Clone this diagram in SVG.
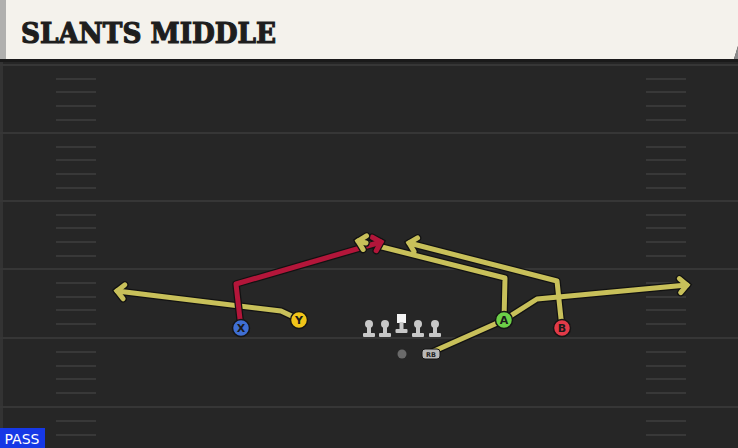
<svg xmlns="http://www.w3.org/2000/svg" width="738" height="448" viewBox="0 0 738 448">
<style>
.yl{stroke:#363636;stroke-width:2;fill:none}
.hm{stroke:#383838;stroke-width:2;fill:none}
.ol{fill:none;stroke:#121212;stroke-width:7.5;stroke-linejoin:round;stroke-linecap:round}
.ry{fill:none;stroke:#c8c05a;stroke-width:5;stroke-linejoin:round;stroke-linecap:round}
.rr{fill:none;stroke:#b3163a;stroke-width:5;stroke-linejoin:round;stroke-linecap:round}
.pl{stroke:#151515;stroke-width:1.5}
.lt{font-family:"DejaVu Sans","Liberation Sans",sans-serif;font-weight:bold;font-size:11px;fill:#1a1a1a;text-anchor:middle}
.ln{fill:#c8c8c8}
</style>
<defs>
<marker id="ahO" markerUnits="userSpaceOnUse" markerWidth="30" markerHeight="30" refX="0" refY="0" viewBox="-15 -15 30 30" orient="auto" overflow="visible">
<path d="M-7,-7 L0,0 L-7,7" fill="none" stroke="#121212" stroke-width="7.5" stroke-linejoin="miter" stroke-linecap="round"/>
</marker>
<marker id="ahY" markerUnits="userSpaceOnUse" markerWidth="30" markerHeight="30" refX="0" refY="0" viewBox="-15 -15 30 30" orient="auto" overflow="visible">
<path d="M-7,-7 L0,0 L-7,7" fill="none" stroke="#c8c05a" stroke-width="5" stroke-linejoin="miter" stroke-linecap="round"/>
</marker>
<marker id="ahR" markerUnits="userSpaceOnUse" markerWidth="30" markerHeight="30" refX="0" refY="0" viewBox="-15 -15 30 30" orient="auto" overflow="visible">
<path d="M-7,-7 L0,0 L-7,7" fill="none" stroke="#b3163a" stroke-width="5" stroke-linejoin="miter" stroke-linecap="round"/>
</marker>
</defs>

<!-- field -->
<rect x="0" y="0" width="738" height="448" fill="#262626"/>
<rect x="0" y="59" width="3" height="389" fill="#333"/>
<g id="field">
<line class="yl" x1="0" y1="65" x2="738" y2="65"/>
<line class="yl" x1="0" y1="133" x2="738" y2="133"/>
<line class="yl" x1="0" y1="201" x2="738" y2="201"/>
<line class="yl" x1="0" y1="269" x2="738" y2="269"/>
<line class="yl" x1="0" y1="338" x2="738" y2="338"/>
<line class="yl" x1="0" y1="407" x2="738" y2="407"/>
<path class="hm" d="M56,79H96M56,92H96M56,106H96M56,120H96M56,147H96M56,160H96M56,174H96M56,188H96M56,215H96M56,228H96M56,242H96M56,256H96M56,283H96M56,297H96M56,310H96M56,324H96M56,352H96M56,366H96M56,379H96M56,393H96M56,421H96M56,435H96"/>
<path class="hm" d="M646,79H686M646,92H686M646,106H686M646,120H686M646,147H686M646,160H686M646,174H686M646,188H686M646,215H686M646,228H686M646,242H686M646,256H686M646,283H686M646,297H686M646,310H686M646,324H686M646,352H686M646,366H686M646,379H686M646,393H686M646,421H686M646,435H686"/>
</g>

<!-- header -->
<g id="header">
<rect x="0" y="58" width="738" height="4" fill="#1a1a1a"/>
<polygon points="0,0 738,0 738,46 734,59 0,59" fill="#f4f2ec"/>
<polygon points="738,46 738,59 734,59" fill="#8a8a8a"/>
<rect x="0" y="0" width="6" height="59" fill="#b0b0ae"/>
<text x="21" y="43" font-family="'DejaVu Serif','Liberation Serif',serif" font-weight="bold" font-size="28" fill="#1e1e1e" stroke="#1e1e1e" stroke-width="1.2" textLength="255" lengthAdjust="spacingAndGlyphs">SLANTS MIDDLE</text>
</g>

<!-- routes -->
<g id="connectors">
<path class="ol" marker-end="url(#ahO)" d="M298,319 L281,311 L117,291"/>
<path class="ol" d="M504,320 L505,278 L358,241"/>
<path class="ol" marker-end="url(#ahO)" d="M562,328 L557,281 L409,243"/>
<path class="ol" marker-end="url(#ahO)" d="M432,352 L504,320 L537,299 L687,285"/>
<path class="ry" marker-end="url(#ahY)" d="M298,319 L281,311 L117,291"/>
<path class="ry" d="M504,320 L505,278 L358,241"/>
<path class="ry" marker-end="url(#ahY)" d="M562,328 L557,281 L409,243"/>
<path class="ry" marker-end="url(#ahY)" d="M432,352 L504,320 L537,299 L687,285"/>
<path class="ol" marker-end="url(#ahO)" d="M241,328 L236,284 L381,242"/>
<path class="rr" marker-end="url(#ahR)" d="M241,328 L236,284 L381,242"/>
<path class="ol" marker-end="url(#ahO)" d="M366,243 L358,241"/>
<path class="ry" marker-end="url(#ahY)" d="M366,243 L358,241"/>
</g>

<!-- offensive line -->
<g id="line">
<g id="lg1"><circle class="ln" cx="369" cy="324" r="4"/><rect class="ln" x="367" y="324" width="4" height="10"/><rect class="ln" x="363" y="333" width="12" height="4" rx="1"/></g>
<g id="lg2"><circle class="ln" cx="385" cy="324" r="4"/><rect class="ln" x="383" y="324" width="4" height="10"/><rect class="ln" x="379" y="333" width="12" height="4" rx="1"/></g>
<g id="center"><rect x="397" y="314" width="9" height="9" fill="#f4f4f4"/><rect class="ln" x="399.5" y="322" width="4" height="8"/><rect class="ln" x="395.5" y="329" width="12" height="4" rx="1"/></g>
<g id="lg4"><circle class="ln" cx="418" cy="324" r="4"/><rect class="ln" x="416" y="324" width="4" height="10"/><rect class="ln" x="412" y="333" width="12" height="4" rx="1"/></g>
<g id="lg5"><circle class="ln" cx="435" cy="324" r="4"/><rect class="ln" x="433" y="324" width="4" height="10"/><rect class="ln" x="429" y="333" width="12" height="4" rx="1"/></g>
</g>
<g id="qb"><circle cx="402" cy="354" r="4.5" fill="#6a6a6a"/></g>
<g id="rb"><rect x="422" y="349" width="18" height="10" rx="3" fill="#b8b8b8" stroke="#151515" stroke-width="1"/><text x="431" y="357" font-family="'DejaVu Sans','Liberation Sans',sans-serif" font-weight="bold" font-size="6.5" fill="#222" text-anchor="middle">RB</text></g>

<!-- players -->
<g id="X"><circle class="pl" cx="241" cy="328" r="8.5" fill="#3f6fd4"/><text class="lt" x="241" y="332">X</text></g>
<g id="Y"><circle class="pl" cx="299" cy="320" r="8.5" fill="#f0c419"/><text class="lt" x="299" y="324">Y</text></g>
<g id="A"><circle class="pl" cx="504" cy="320" r="8.5" fill="#6ccf47"/><text class="lt" x="504" y="324">A</text></g>
<g id="B"><circle class="pl" cx="562" cy="328" r="8.5" fill="#e23a48"/><text class="lt" x="562" y="332">B</text></g>

<!-- pass label -->
<g id="pass"><rect x="0" y="428" width="45" height="20" fill="#1638e6"/><text x="22" y="444" font-family="'DejaVu Sans','Liberation Sans',sans-serif" font-size="14" fill="#ffffff" text-anchor="middle">PASS</text></g>
</svg>
